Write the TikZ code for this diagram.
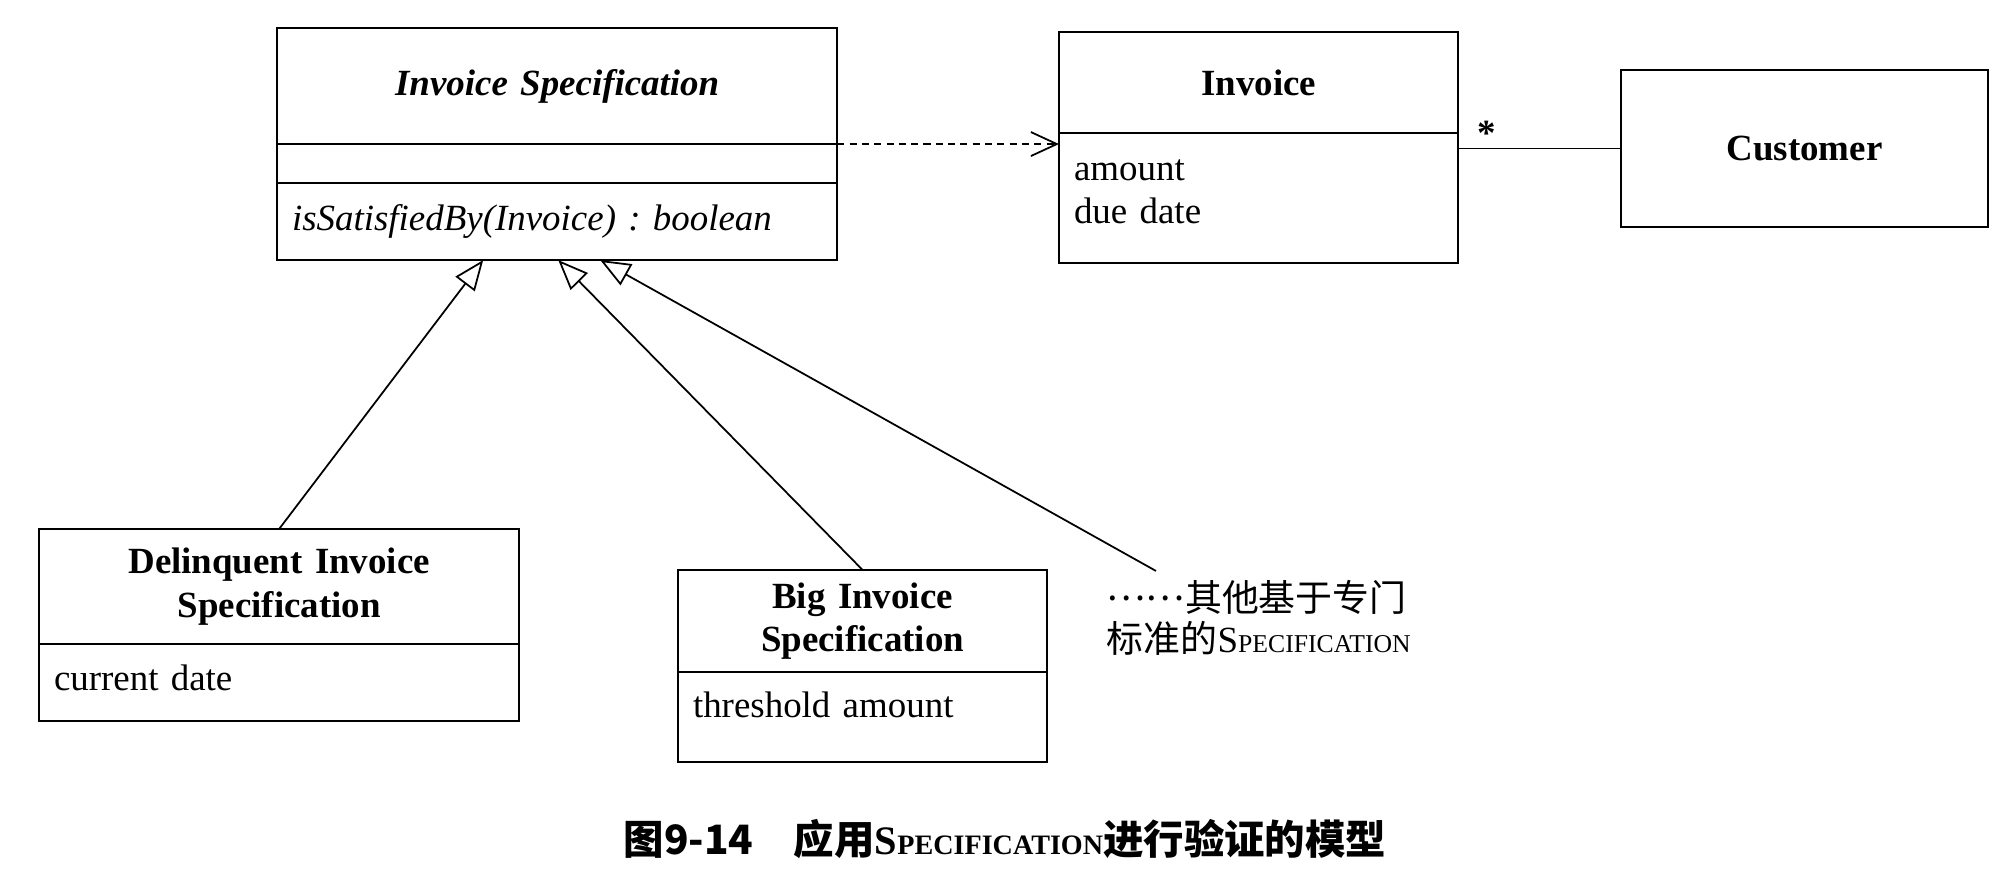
\documentclass[tikz,border=0pt]{standalone}
\usepackage{fontspec}
\setmainfont{Liberation Serif}
\newfontfamily\cjk{Noto Sans CJK SC}
\usetikzlibrary{arrows.meta,positioning,calc}
\frenchspacing
\newcommand{\umlsize}{\fontsize{10.5}{12.3}\selectfont}
\newcommand{\fakesc}[1]{S{\fontsize{#1}{#1}\selectfont PECIFICATION}}
\tikzset{
    >={Stealth[]},
    every picture/.style={line width=0.5pt},
    clsname/.style={draw,line width=0.6pt,outer sep=0pt,inner xsep=0.15cm,inner ysep=0pt,align=center,font=\umlsize\bfseries},
    clsbody/.style={draw,line width=0.6pt,outer sep=0pt,inner xsep=0.15cm,inner ysep=0pt,align=left,font=\umlsize},
    gen/.style={-{Triangle[open,length=3mm,width=2.4mm]}},
    dep/.style={dash pattern=on 2pt off 1.5pt,-{Straight Barb[length=2.6mm,width=2.4mm]}}
}
\begin{document}
\begin{tikzpicture}[x=0.01cm,y=-0.01cm]
        \useasboundingbox (0,0) rectangle (2002,874);

        % Invoice Specification (abstract)
        \node[clsname,anchor=north west,text width=5.30cm,minimum height=1.16cm,font=\umlsize\bfseries\itshape] (specname) at (277,28) {Invoice Specification};
        \node[clsbody,below=0pt of specname,text width=5.30cm,minimum height=0.39cm] (specattr) {};
        \node[clsbody,below=0pt of specattr,text width=5.30cm,minimum height=0.77cm,font=\umlsize\itshape] (specops) {isSatisfiedBy(Invoice) : boolean};

        % Invoice
        \node[clsname,anchor=north west,text width=3.69cm,minimum height=1.01cm] (invname) at (1059,32) {Invoice};
        \node[clsbody,below=0pt of invname,text width=3.69cm,minimum height=1.30cm,text depth=0.56cm] (invattr) {amount\\due date};

        % Customer
        \node[clsname,anchor=north west,text width=3.37cm,minimum height=1.57cm] (customer) at (1621,70) {Customer};

        % Subclasses
        \node[clsname,anchor=north west,text width=4.50cm,minimum height=1.15cm] (delname) at (39,529) {Delinquent Invoice\\Specification};
        \node[clsbody,below=0pt of delname,text width=4.50cm,minimum height=0.77cm,text depth=0.1cm] (delattr) {current date};

        \node[clsname,anchor=north west,text width=3.39cm,minimum height=1.02cm] (bigname) at (678,570) {Big Invoice\\Specification};
        \node[clsbody,below=0pt of bigname,text width=3.39cm,minimum height=0.90cm,text depth=0.25cm] (bigattr) {threshold amount};

        \node[anchor=north west,align=left,inner sep=0pt,font=\fontsize{10.5}{11.4}\selectfont] (others) at (1106,580) {{\cjk \raisebox{0.3em}{……}其他基于专门}\\{\cjk 标准的}\fakesc{7.3}};

        % Connectors
        \draw[gen] (delname.north) -- ($(specops.south west)!0.368!(specops.south east)$);
        \draw[gen] (bigname.north) -- ($(specops.south west)!0.502!(specops.south east)$);
        \draw[gen] ([xshift=0.5cm,yshift=0.09cm]others.north west) -- ($(specops.south west)!0.577!(specops.south east)$);
        \draw[dep] (specname.south east) -- (specname.south east -| invattr.west);
        \draw (invattr.east |- customer.west) -- node[pos=0,anchor=south west,inner sep=0pt,xshift=0.18cm,yshift=0.02cm,font=\umlsize\bfseries] {*} (customer.west);

        % Caption
        \node[font=\fontsize{11.5}{13}\selectfont\bfseries] (caption) at (1005,839) {{\cjk 图9-14}\quad{\cjk 应用}\fakesc{8}{\cjk 进行验证的模型}};
\end{tikzpicture}
\end{document}
